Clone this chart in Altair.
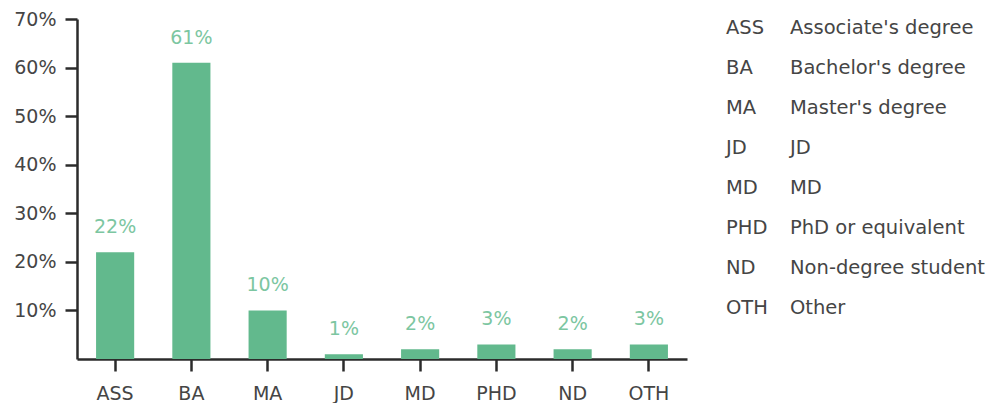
import altair as alt
import pandas as pd

# Degree categories, their full names and the share of respondents (%)
codes = ["ASS", "BA", "MA", "JD", "MD", "PHD", "ND", "OTH"]
names = [
    "Associate's degree",
    "Bachelor's degree",
    "Master's degree",
    "JD",
    "MD",
    "PhD or equivalent",
    "Non-degree student",
    "Other",
]
shares = [22, 61, 10, 1, 2, 3, 2, 3]

y_ticks = [10, 20, 30, 40, 50, 60, 70]

FONT = "DejaVu Sans"
BAR = "#62b98d"
LABEL = "#7cc6a1"
INK = "#2b2b2b"
TEXT = "#454545"

df = pd.DataFrame({"code": codes, "share": [s / 100 for s in shares]})
legend_df = pd.DataFrame({"code": codes, "name": names})

base = alt.Chart(df).encode(
    x=alt.X(
        "code:N",
        sort=codes,
        scale=alt.Scale(paddingInner=0.5, paddingOuter=0.25),
        axis=alt.Axis(
            title=None,
            labelAngle=0,
            labelFontSize=19,
            labelPadding=13,
            tickSize=12,
        ),
    ),
    y=alt.Y(
        "share:Q",
        scale=alt.Scale(domain=[0, 0.7], nice=False),
        axis=alt.Axis(
            title=None,
            values=[v / 100 for v in y_ticks],
            format=".0%",
            labelFontSize=19,
            labelPadding=9,
            tickSize=12,
            grid=False,
        ),
    ),
)

bars = base.mark_bar(color=BAR)
values = base.mark_text(
    dy=-25, baseline="middle", font=FONT, fontSize=19, color=LABEL
).encode(text=alt.Text("share:Q", format=".0%"))

main = (bars + values).properties(width=610, height=340)

# Key of abbreviations to the right of the bars
key_base = alt.Chart(legend_df).encode(
    y=alt.Y(
        "code:N",
        sort=codes,
        scale=alt.Scale(type="point", range=[9, 289], padding=0),
        axis=None,
    )
)
key_codes = key_base.mark_text(
    align="left", baseline="middle", font=FONT, fontSize=19.5, color=TEXT
).encode(x=alt.value(0), text="code:N")
key_names = key_base.mark_text(
    align="left", baseline="middle", font=FONT, fontSize=19.5, color=TEXT
).encode(x=alt.value(64), text="name:N")
key = (key_codes + key_names).properties(width=250, height=340)

chart = (
    alt.hconcat(main, key, spacing=39)
    .properties(padding={"left": 13, "top": 10, "right": 5, "bottom": 5})
    .configure_view(stroke=None)
    .configure_axis(
        labelFont=FONT,
        labelColor=TEXT,
        domainColor=INK,
        tickColor=INK,
        domainWidth=2.5,
        tickWidth=2.5,
    )
)

chart.save("out.html", embed_options={"renderer": "svg", "actions": False})
